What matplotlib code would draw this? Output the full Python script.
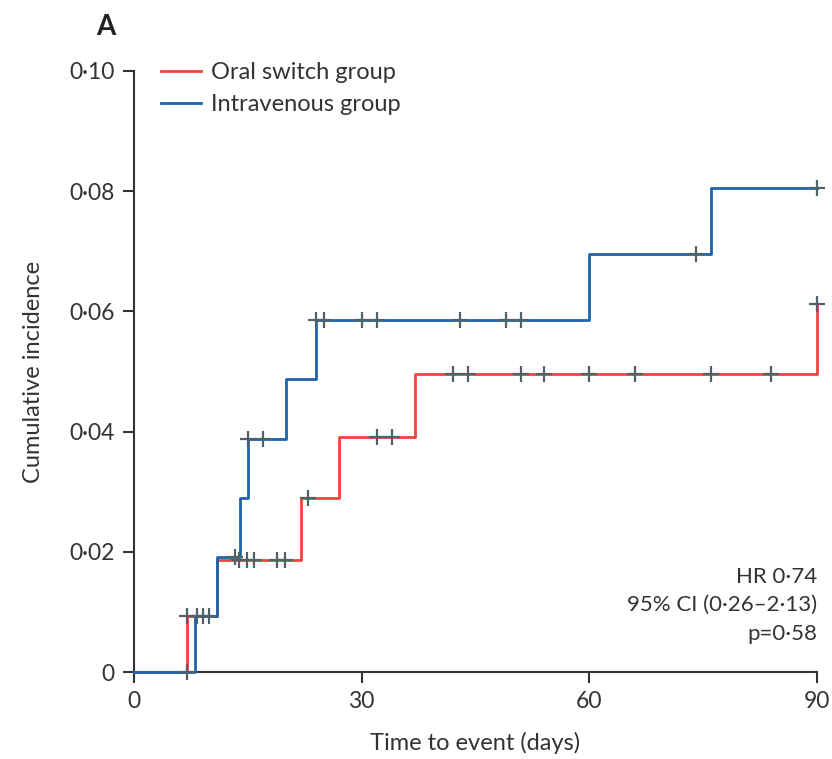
import numpy as np
from matplotlib import pyplot as plt

plt.rcParams['font.family'] = ['Lato', 'DejaVu Sans']

# step curves (time in days, cumulative incidence)
oral_times = [0, 7, 11, 22, 27, 37, 90]
oral_vals = [0, 0.0094, 0.0186, 0.0289, 0.0391, 0.0496, 0.0612]
iv_times = [0, 8, 11, 14, 15, 20, 24, 60, 76, 90]
iv_vals = [0, 0.0094, 0.0192, 0.0290, 0.0388, 0.0487, 0.0586, 0.0696, 0.0806, 0.0806]

# censoring times
oral_censor = [7, 9.1, 13.9, 14.9, 15.8, 18.8, 19.9, 22.9, 32, 34, 42, 44, 51, 54, 60, 66, 76, 84, 90]
iv_censor = [7, 8.3, 9.9, 13.3, 15, 17, 24, 25, 30, 32, 43, 49, 51, 74, 90]

y_ticks = [0, 0.02, 0.04, 0.06, 0.08, 0.10]
y_tick_labels = ["0", "0·02", "0·04", "0·06", "0·08", "0·10"]
x_ticks = [0, 30, 60, 90]

RED = "#f2433c"
BLUE = "#1f64ae"
CENSOR = "#4f6268"
TEXT = "#333333"


def step_value(times, vals, t):
    idx = np.searchsorted(times, t, side="right") - 1
    return np.asarray(vals)[idx]


fig = plt.figure(figsize=(8.32, 7.59), dpi=100)
ax = fig.add_axes([0.161, 0.1146, 0.821, 0.7919])

ax.step(oral_times, oral_vals, where="post", color=RED, lw=2, label="Oral switch group", clip_on=False, zorder=3)
ax.step(iv_times, iv_vals, where="post", color=BLUE, lw=2, label="Intravenous group", clip_on=False, zorder=3)

ax.plot(oral_censor, step_value(oral_times, oral_vals, oral_censor), ls="none", marker="+", ms=12, mew=1.6,
        color=CENSOR, clip_on=False, zorder=4)
ax.plot(iv_censor, step_value(iv_times, iv_vals, iv_censor), ls="none", marker="+", ms=12, mew=1.6,
        color=CENSOR, clip_on=False, zorder=4)

ax.set_xlim(0, 90)
ax.set_ylim(0, 0.10)
ax.set_xticks(x_ticks)
ax.set_xticklabels([str(x) for x in x_ticks])
ax.set_yticks(y_ticks)
ax.set_yticklabels(y_tick_labels)

for side in ["top", "right"]:
    ax.spines[side].set_visible(False)
for side in ["left", "bottom"]:
    ax.spines[side].set_color(TEXT)
    ax.spines[side].set_linewidth(1.5)

ax.tick_params(direction="out", length=8, width=1.5, color=TEXT, labelcolor=TEXT, labelsize=16.5, pad=6)

ax.set_xlabel("Time to event (days)", fontsize=17, color=TEXT, labelpad=14)
ax.set_ylabel("Cumulative incidence", fontsize=17, color=TEXT, labelpad=18)

leg = ax.legend(loc="upper left", bbox_to_anchor=(0.008, 1.05), frameon=False, fontsize=17,
                handlelength=1.7, handletextpad=0.45, labelspacing=0.45)
for text in leg.get_texts():
    text.set_color(TEXT)

ax.text(1.0, 0.111, "HR 0·74\n95% CI (0·26–2·13)\np=0·58", transform=ax.transAxes, ha="right", va="center",
        fontsize=16, color=TEXT, linespacing=1.55)

fig.text(0.115, 0.965, "A", fontsize=20, fontweight="bold", color="#222222", ha="left", va="center")

fig.savefig("out.png", dpi=100)
